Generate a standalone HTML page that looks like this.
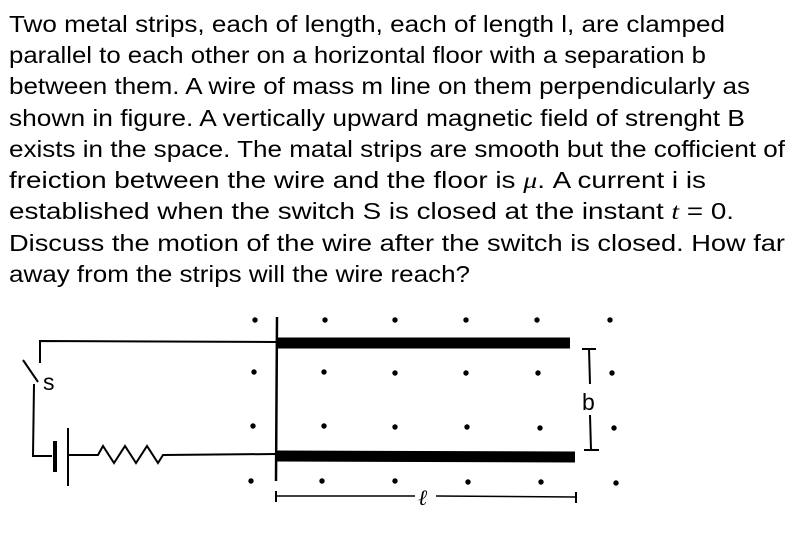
<!DOCTYPE html>
<html><head><meta charset="utf-8"><style>
html,body{margin:0;padding:0;background:#fff;width:800px;height:544px;overflow:hidden}
svg{display:block}
text{font-family:"Liberation Sans",sans-serif;font-size:23.5px;fill:#000}
</style></head><body>
<svg width="800" height="544" viewBox="0 0 800 544" xmlns="http://www.w3.org/2000/svg">
<text x="9" y="32" textLength="716" lengthAdjust="spacingAndGlyphs">Two metal strips, each of length, each of length l, are clamped</text>
<text x="9" y="63" textLength="697" lengthAdjust="spacingAndGlyphs">parallel to each other on a horizontal floor with a separation b</text>
<text x="9" y="94" textLength="741" lengthAdjust="spacingAndGlyphs">between them. A wire of mass m line on them perpendicularly as</text>
<text x="9" y="126" textLength="736" lengthAdjust="spacingAndGlyphs">shown in figure. A vertically upward magnetic field of strenght B</text>
<text x="9" y="157" textLength="776" lengthAdjust="spacingAndGlyphs">exists in the space. The matal strips are smooth but the cofficient of</text>
<text x="9" y="188" textLength="697" lengthAdjust="spacingAndGlyphs">freiction between the wire and the floor is <tspan font-family="Liberation Serif" font-style="italic">μ</tspan>. A current i is</text>
<text x="9" y="219" textLength="725" lengthAdjust="spacingAndGlyphs">established when the switch S is closed at the instant <tspan font-family="Liberation Serif" font-style="italic">t</tspan> = 0.</text>
<text x="9" y="251" textLength="776" lengthAdjust="spacingAndGlyphs">Discuss the motion of the wire after the switch is closed. How far</text>
<text x="9" y="282" textLength="461" lengthAdjust="spacingAndGlyphs">away from the strips will the wire reach?</text>

<g stroke="#000" fill="none" stroke-width="2">
<polyline points="276,342 40,341 40,363"/>
<line x1="23" y1="360" x2="38" y2="382"/>
<polyline points="34,384 33,456 52,456"/>
<line x1="55" y1="441" x2="55" y2="472" stroke-width="4"/>
<line x1="68" y1="428" x2="68" y2="486"/>
<polyline points="68,455 98,455 103,446 114,463 125,446 136,463 147,446 158,463 163,455 276,454"/>
<line x1="277" y1="317" x2="276" y2="481" stroke-width="2.5"/>
<line x1="277" y1="343" x2="570" y2="343" stroke-width="11"/>
<line x1="276" y1="456" x2="575" y2="457" stroke-width="11"/>
<line x1="589" y1="349" x2="590" y2="384"/>
<line x1="582" y1="349" x2="596" y2="349"/>
<line x1="590" y1="415" x2="591" y2="450"/>
<line x1="584" y1="450" x2="599" y2="450"/>
<line x1="276" y1="496" x2="415" y2="496" stroke-width="1.5"/>
<line x1="436" y1="496" x2="576" y2="497" stroke-width="1.5"/>
<line x1="276" y1="491" x2="276" y2="502"/>
<line x1="576" y1="492" x2="576" y2="503"/>
</g>
<g fill="#000">
<circle cx="255" cy="320" r="2.7"/><circle cx="325" cy="320" r="2.7"/><circle cx="395" cy="320" r="2.7"/><circle cx="466" cy="320" r="2.7"/><circle cx="537" cy="320" r="2.7"/><circle cx="610" cy="320" r="2.7"/>
<circle cx="254" cy="372" r="2.7"/><circle cx="324" cy="372" r="2.7"/><circle cx="395" cy="373" r="2.7"/><circle cx="466" cy="373" r="2.7"/><circle cx="538" cy="373" r="2.7"/><circle cx="612" cy="373" r="2.7"/>
<circle cx="253" cy="426" r="2.7"/><circle cx="324" cy="426" r="2.7"/><circle cx="395" cy="427" r="2.7"/><circle cx="467" cy="427" r="2.7"/><circle cx="540" cy="428" r="2.7"/><circle cx="614" cy="428" r="2.7"/>
<circle cx="251" cy="481" r="2.7"/><circle cx="322" cy="481" r="2.7"/><circle cx="395" cy="481" r="2.7"/><circle cx="468" cy="482" r="2.7"/><circle cx="541" cy="482" r="2.7"/><circle cx="616" cy="483" r="2.7"/>
</g>
<text x="43" y="390" style="font-size:23px">s</text>
<text x="582" y="410" style="font-size:23px">b</text>
<text x="418" y="505" style="font-size:22px;font-family:'Liberation Serif',serif;font-style:italic">ℓ</text>
</svg>
</body></html>
